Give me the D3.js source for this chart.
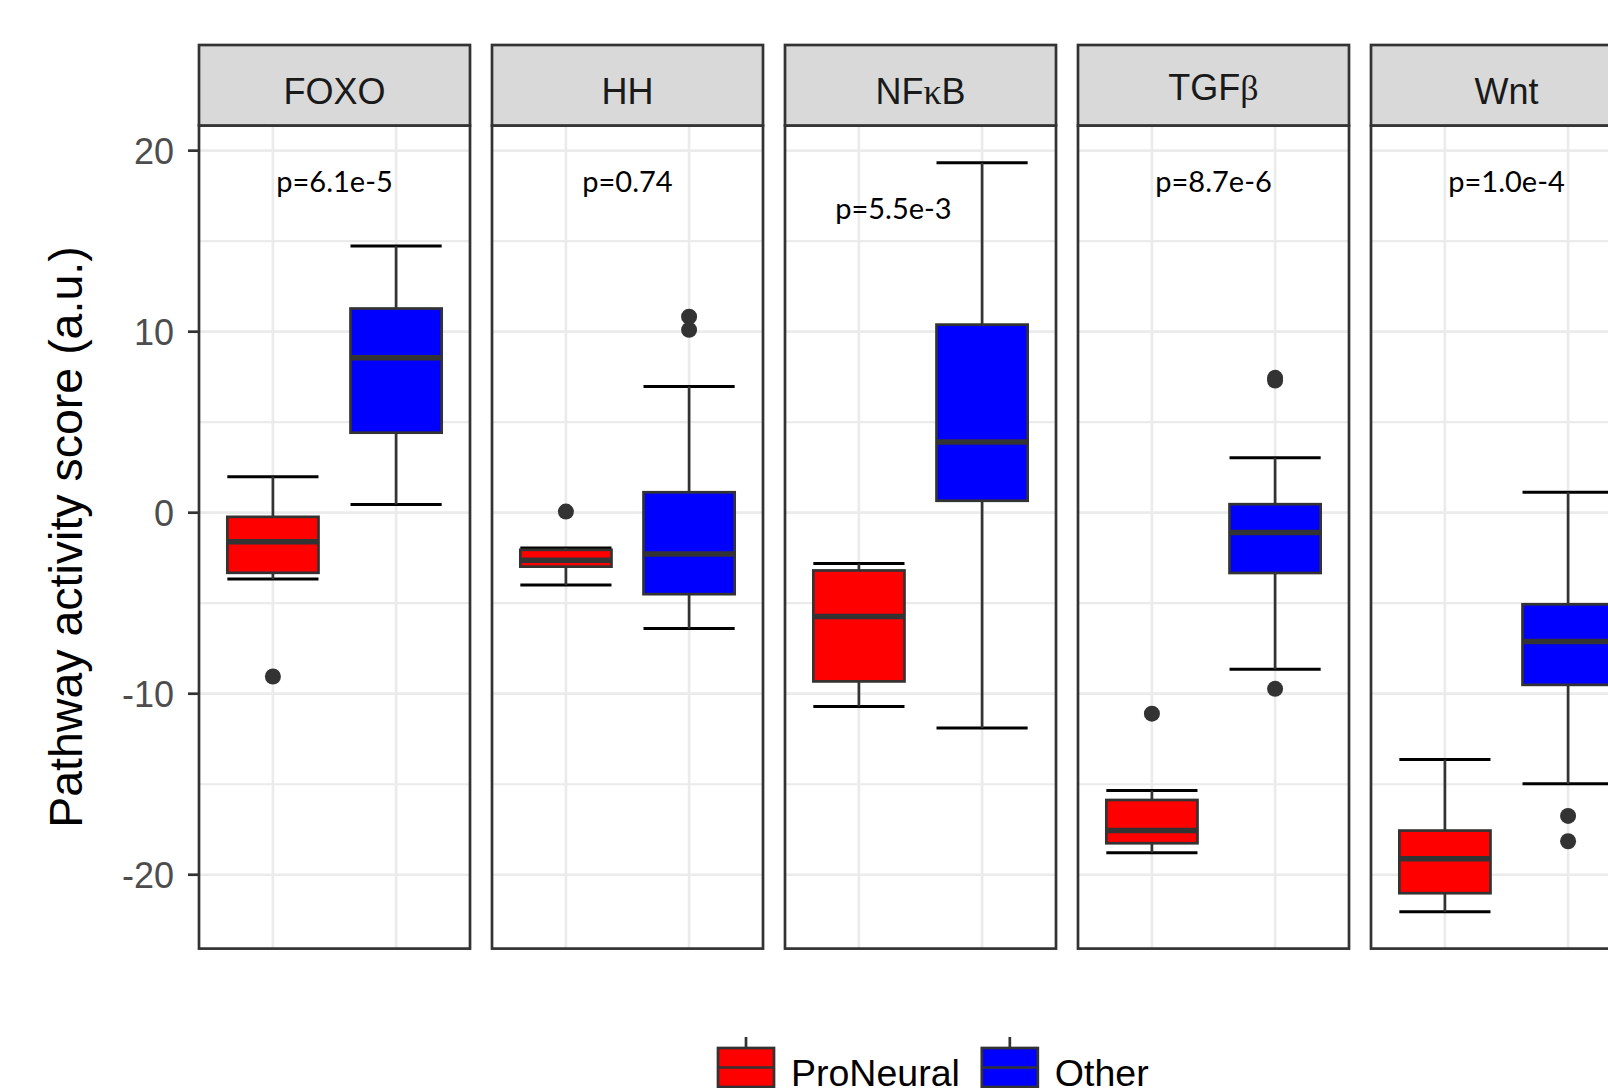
<!DOCTYPE html>
<html>
<head>
<meta charset="utf-8">
<script src="https://cdn.jsdelivr.net/npm/d3@7/dist/d3.min.js"></script>
<style>
  body { margin: 0; background: #fff; }
  text { font-family: "Liberation Sans", Arial, sans-serif; }
</style>
</head>
<body>
<svg id="chart" width="1608" height="1088"></svg>
<script>
// facet / group names
var pathways = ["FOXO", "HH", "NFκB", "TGFβ", "Wnt"];
var groups = ["ProNeural", "Other"];
var groupColors = ["#FF0000", "#0000FF"];

// box stats per pathway: [lower whisker, q1, median, q3, upper whisker]
var proNeuralStats = [
  [-3.66, -3.32, -1.61, -0.23, 1.99],
  [-4.0, -2.98, -2.62, -2.05, -1.95],
  [-10.7, -9.32, -5.73, -3.19, -2.81],
  [-18.78, -18.26, -17.56, -15.87, -15.35],
  [-22.05, -21.02, -19.11, -17.56, -13.64]
];
var otherStats = [
  [0.46, 4.42, 8.56, 11.28, 14.73],
  [-6.4, -4.5, -2.28, 1.13, 6.97],
  [-11.9, 0.66, 3.9, 10.39, 19.33],
  [-8.65, -3.33, -1.1, 0.47, 3.03],
  [-14.98, -9.51, -7.12, -5.06, 1.13]
];
var proNeuralOutliers = [[-9.05], [0.06], [], [-11.1], []];
var otherOutliers = [[], [10.1, 10.83], [], [-9.73, 7.3, 7.45], [-16.75, -18.15]];

// annotations (data coords)
var pLabels = ["p=6.1e-5", "p=0.74", "p=5.5e-3", "p=8.7e-6", "p=1.0e-4"];
var pLabelX = [1.5, 1.5, 1.28, 1.5, 1.5];
var pLabelY = [17.74, 17.74, 16.22, 17.74, 17.74];

var yTicks = [-20, -10, 0, 10, 20];
var yMinorTicks = [-15, -5, 5, 15];

var svg = d3.select("#chart");

var panelW = 271,
    panelTop = 125.5,
    panelBottom = 948.6,
    stripTop = 45;

var px = d3.scaleLinear().domain([0, pathways.length - 1]).range([199, 199 + 293 * (pathways.length - 1)]);
var x = d3.scaleLinear().domain([0.4, 2.6]).range([0, panelW]);
var y = d3.scaleLinear().domain([-24.08, 21.39]).range([panelBottom, panelTop]);
var boxW = x(1.37) - x(0.63);

var lineCol = "#333333";

pathways.forEach(function(name, i) {
  var g = svg.append("g").attr("transform", "translate(" + px(i) + ",0)");

  // panel bg + grid
  g.append("rect").attr("x", 0).attr("y", panelTop).attr("width", panelW)
    .attr("height", panelBottom - panelTop).attr("fill", "#fff");

  g.selectAll(".minor").data(yMinorTicks).enter().append("line")
    .attr("x1", 0).attr("x2", panelW)
    .attr("y1", function(d) { return y(d); }).attr("y2", function(d) { return y(d); })
    .attr("stroke", "#EBEBEB").attr("stroke-width", 2.2);
  g.selectAll(".major").data(yTicks).enter().append("line")
    .attr("x1", 0).attr("x2", panelW)
    .attr("y1", function(d) { return y(d); }).attr("y2", function(d) { return y(d); })
    .attr("stroke", "#EBEBEB").attr("stroke-width", 2.7);
  g.selectAll(".vgrid").data([1, 2]).enter().append("line")
    .attr("x1", function(d) { return x(d); }).attr("x2", function(d) { return x(d); })
    .attr("y1", panelTop).attr("y2", panelBottom)
    .attr("stroke", "#EBEBEB").attr("stroke-width", 2.7);

  // boxes
  var sets = [
    { stats: proNeuralStats[i], out: proNeuralOutliers[i], col: groupColors[0], pos: 1 },
    { stats: otherStats[i], out: otherOutliers[i], col: groupColors[1], pos: 2 }
  ];
  sets.forEach(function(s) {
    var cx = x(s.pos), st = s.stats;
    // caps
    [st[0], st[4]].forEach(function(v) {
      g.append("line").attr("x1", cx - boxW / 2).attr("x2", cx + boxW / 2)
        .attr("y1", y(v)).attr("y2", y(v))
        .attr("stroke", "#000").attr("stroke-width", 3);
    });
    // whiskers
    g.append("line").attr("x1", cx).attr("x2", cx).attr("y1", y(st[0])).attr("y2", y(st[1]))
      .attr("stroke", lineCol).attr("stroke-width", 2.7);
    g.append("line").attr("x1", cx).attr("x2", cx).attr("y1", y(st[3])).attr("y2", y(st[4]))
      .attr("stroke", lineCol).attr("stroke-width", 2.7);
    // box
    g.append("rect").attr("x", cx - boxW / 2).attr("y", y(st[3]))
      .attr("width", boxW).attr("height", y(st[1]) - y(st[3]))
      .attr("fill", s.col).attr("stroke", lineCol).attr("stroke-width", 2.7);
    g.append("line").attr("x1", cx - boxW / 2).attr("x2", cx + boxW / 2)
      .attr("y1", y(st[2])).attr("y2", y(st[2]))
      .attr("stroke", lineCol).attr("stroke-width", 5.5);
    // outliers
    g.selectAll(null).data(s.out).enter().append("circle")
      .attr("cx", cx).attr("cy", function(d) { return y(d); }).attr("r", 8)
      .attr("fill", lineCol);
  });

  // p value
  g.append("text").attr("x", x(pLabelX[i])).attr("y", y(pLabelY[i]))
    .attr("text-anchor", "middle").attr("font-size", 29)
    .style("font-family", "Lato, 'Open Sans', sans-serif")
    .attr("fill", "#000").text(pLabels[i]);

  // panel border
  g.append("rect").attr("x", 0).attr("y", panelTop).attr("width", panelW)
    .attr("height", panelBottom - panelTop).attr("fill", "none")
    .attr("stroke", lineCol).attr("stroke-width", 2.7);

  // strip
  g.append("rect").attr("x", 0).attr("y", stripTop).attr("width", panelW)
    .attr("height", panelTop - stripTop).attr("fill", "#D9D9D9")
    .attr("stroke", lineCol).attr("stroke-width", 2.7);
  var hasDesc = /β/.test(name);
  var st = g.append("text").attr("x", panelW / 2).attr("y", hasDesc ? 100 : 104)
    .attr("text-anchor", "middle").attr("font-size", 36).attr("fill", "#1A1A1A");
  name.split("").forEach(function(ch) {
    var t = st.append("tspan").text(ch);
    if (/[α-ω]/.test(ch)) t.style("font-family", "'Liberation Serif', 'DejaVu Serif', serif");
  });
});

// y axis
var yAxis = svg.append("g");
yAxis.selectAll("line").data(yTicks).enter().append("line")
  .attr("x1", 188).attr("x2", 199)
  .attr("y1", function(d) { return y(d); }).attr("y2", function(d) { return y(d); })
  .attr("stroke", lineCol).attr("stroke-width", 2.7);
yAxis.selectAll("text").data(yTicks).enter().append("text")
  .attr("x", 174).attr("y", function(d) { return y(d); }).attr("dy", "0.36em")
  .attr("text-anchor", "end").attr("font-size", 36).attr("fill", "#4D4D4D")
  .text(function(d) { return d; });

svg.append("text")
  .attr("transform", "translate(82," + ((panelTop + panelBottom) / 2) + ") rotate(-90)")
  .attr("text-anchor", "middle").attr("font-size", 46.5).attr("fill", "#000")
  .text("Pathway activity score (a.u.)");

// legend (cut off at the bottom edge, as in the source figure)
var legend = svg.append("g");
var lx = 718, keyW = 56, boxTop = 1048, boxBot = 1087;
groups.forEach(function(gname, k) {
  var kg = legend.append("g").attr("transform", "translate(" + lx + ",0)");
  kg.append("line").attr("x1", keyW / 2).attr("x2", keyW / 2).attr("y1", boxTop - 11).attr("y2", boxBot + 11)
    .attr("stroke", lineCol).attr("stroke-width", 2.7);
  kg.append("rect").attr("x", 0).attr("y", boxTop).attr("width", keyW).attr("height", boxBot - boxTop)
    .attr("fill", groupColors[k]).attr("stroke", lineCol).attr("stroke-width", 2.7);
  kg.append("line").attr("x1", 0).attr("x2", keyW).attr("y1", (boxTop + boxBot) / 2).attr("y2", (boxTop + boxBot) / 2)
    .attr("stroke", lineCol).attr("stroke-width", 2.7);
  var t = kg.append("text").attr("x", keyW + 17).attr("y", 1086)
    .attr("font-size", 37.5).attr("fill", "#000").text(gname);
  lx += keyW + 17 + t.node().getComputedTextLength() + 22;
});
</script>
</body>
</html>
